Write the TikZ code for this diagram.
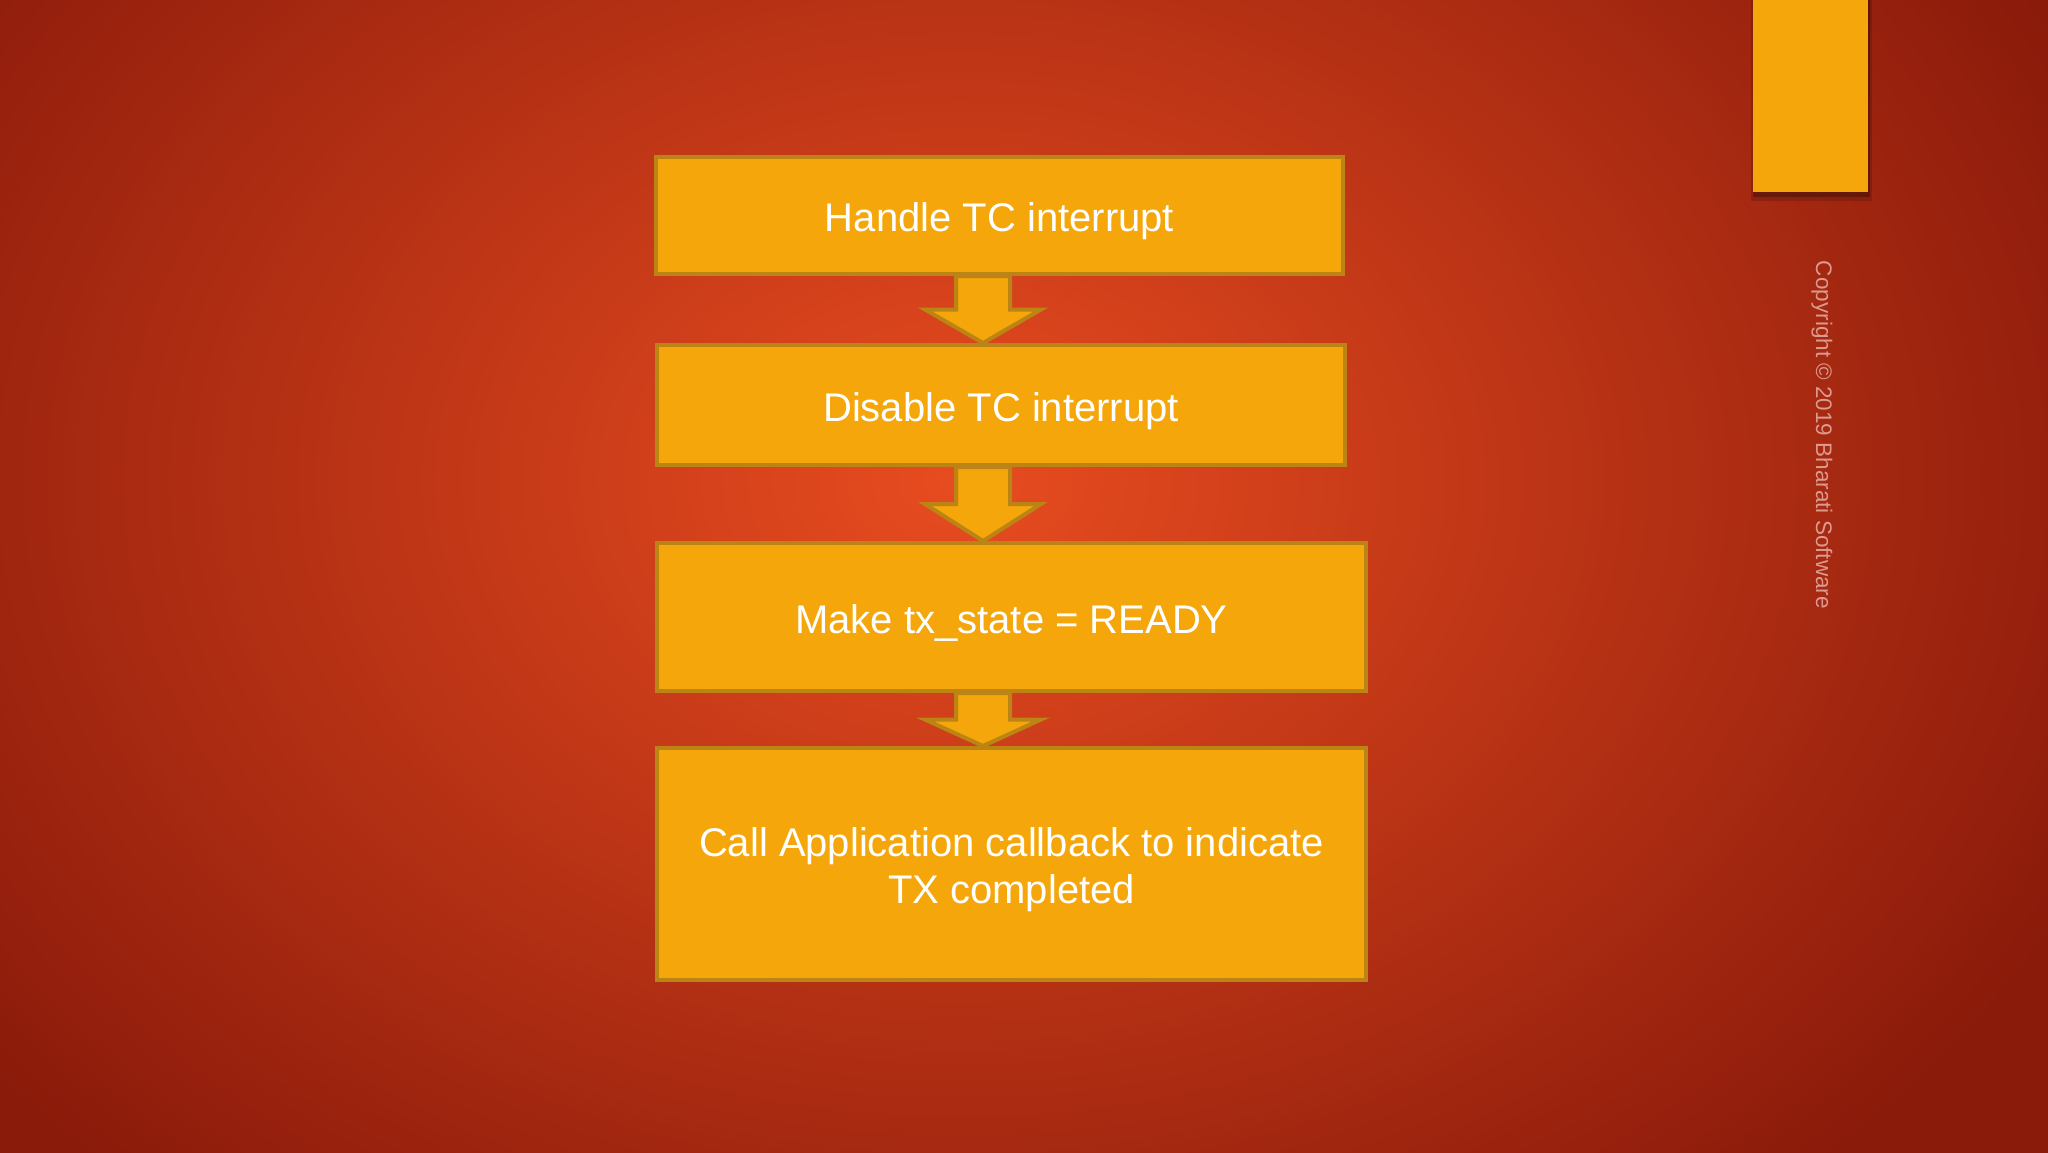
\documentclass[tikz,border=0pt]{standalone}
\usepackage{fontspec}
\setmainfont{Liberation Sans}
\usetikzlibrary{calc}
\definecolor{bgdark}{HTML}{8A1A0A}
\definecolor{bglight}{HTML}{E84C20}
\definecolor{boxfill}{HTML}{F4A60A}
\definecolor{boxline}{HTML}{BC8414}
\definecolor{copytext}{HTML}{DC9A8E}
\tikzset{
  flowbox/.style={draw=boxline, fill=boxfill, line width=4pt, inner sep=0pt},
  flowtext/.style={text=white, font=\fontsize{40}{47}\selectfont, align=center, inner sep=0pt, yshift=-6pt},
  blockarrow/.style={draw=boxline, fill=boxfill, line width=4pt, line join=miter},
}
\newcommand{\flowarrow}[2]{%
  \path[blockarrow] let \p1=(ax |- #1.south), \p2=(ax |- #2.north), \n1={(\y1+\y2)/2} in
    (\x1-27pt,\y1) -- (\x1+27pt,\y1) -- (\x1+27pt,\n1) -- (\x1+58pt,\n1) --
    (\x1,\y2) -- (\x1-58pt,\n1) -- (\x1-27pt,\n1) -- cycle;}
\begin{document}
\begin{tikzpicture}[x=1pt,y=-1pt]
\useasboundingbox (0,0) rectangle (2048,1152);
\fill[bgdark] (-10,-10) rectangle (2058,1162);
\shade[inner color=bglight, outer color=bgdark] (960,480) ellipse [x radius=1250, y radius=950];
% top-right tab with soft shadow
\fill[black, opacity=0.15] (1751,-5) rectangle (1872,201);
\fill[black, opacity=0.25] (1753,-5) rectangle (1870,197);
\fill[boxfill] (1753,-5) rectangle (1868,192);
\node[text=copytext, font=\fontsize{22.5}{26}\selectfont, rotate=-90] (copy) at (1822,435) {Copyright © 2019 Bharati Software};
\coordinate (ax) at (983,0);
% boxes
\node[flowbox, minimum width=687pt, minimum height=117pt,
  label={[flowtext]center:Handle TC interrupt}] (b1) at (999.5,215.5) {};
\node[flowbox, minimum width=688pt, minimum height=120pt,
  label={[flowtext]center:Disable TC interrupt}] (b2) at (1001,405) {};
\node[flowbox, minimum width=709pt, minimum height=148pt,
  label={[flowtext]center:Make tx\_state = READY}] (b3) at (1011.5,617) {};
\node[flowbox, minimum width=709pt, minimum height=232pt,
  label={[flowtext]center:{Call Application callback to indicate\\TX completed}}] (b4) at (1011.5,864) {};
% arrows
\flowarrow{b1}{b2}
\flowarrow{b2}{b3}
\flowarrow{b3}{b4}
\end{tikzpicture}
\end{document}
